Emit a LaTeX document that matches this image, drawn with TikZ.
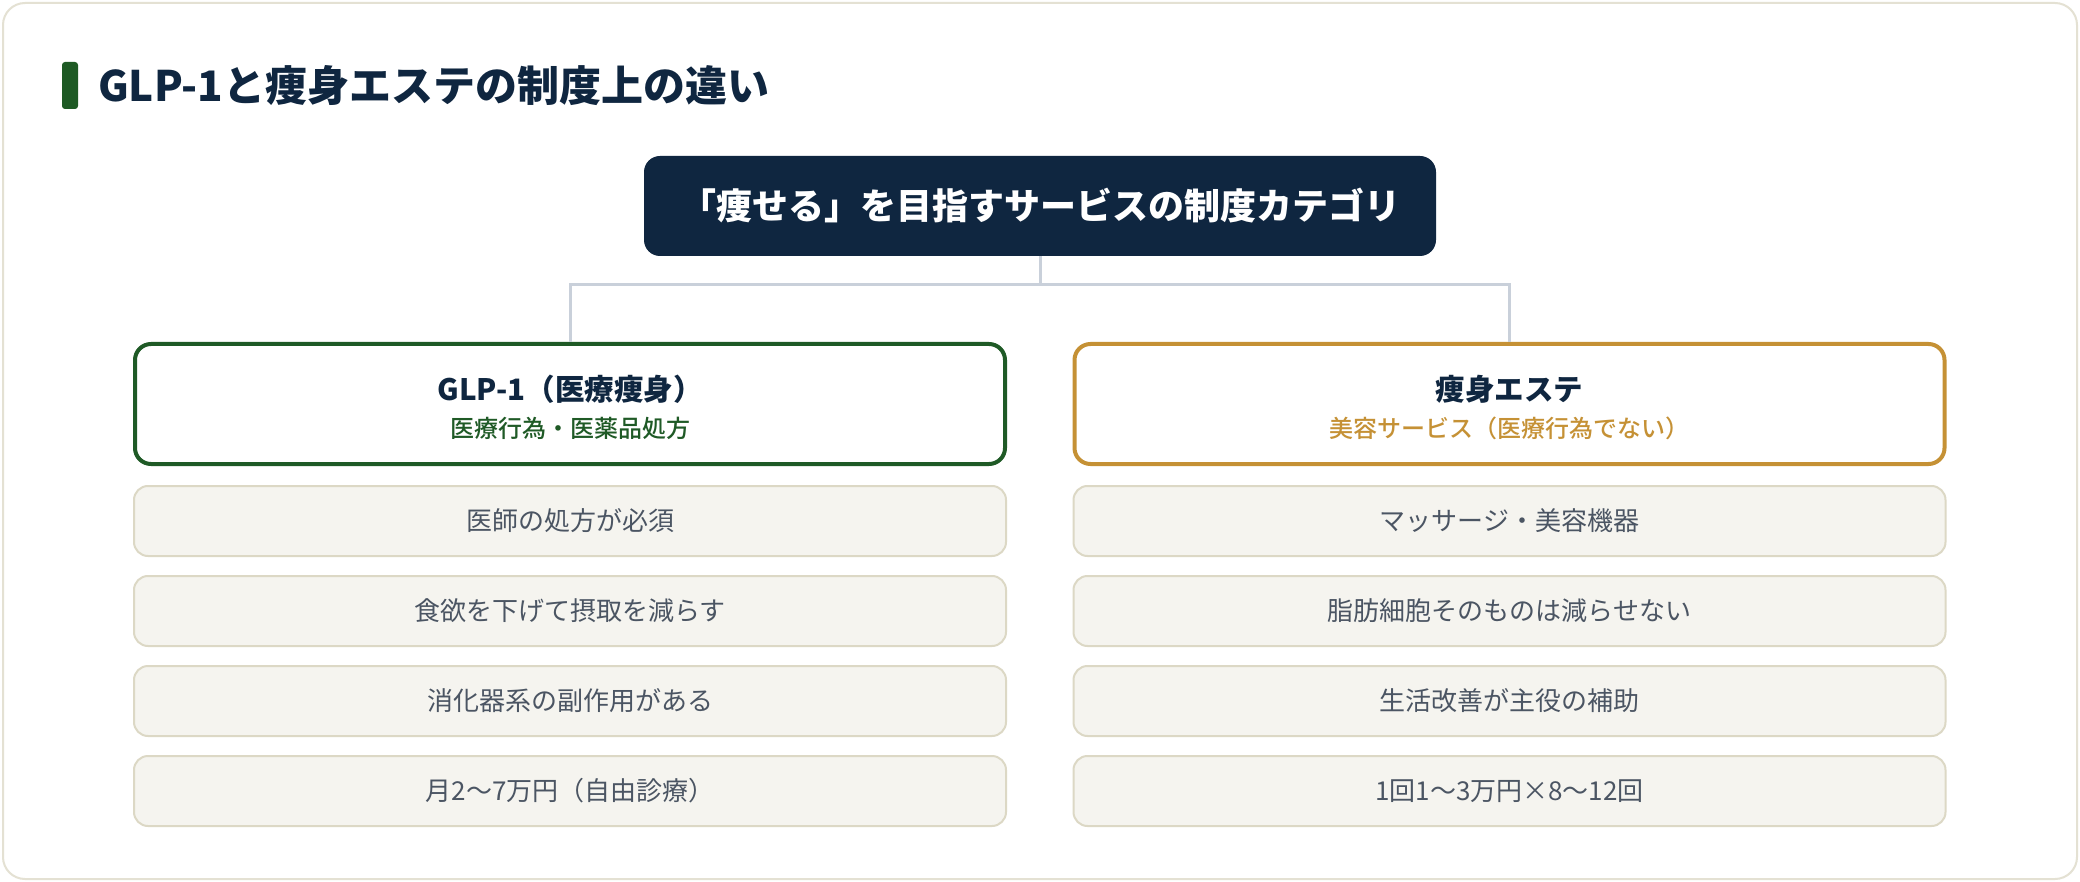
\documentclass[tikz,border=0pt]{standalone}
\usepackage{fontspec}
\setmainfont{Noto Sans CJK JP}
\newfontfamily\medfont{Noto Sans CJK JP Medium}
\definecolor{navy}{HTML}{0F2640}
\definecolor{frameline}{HTML}{E4E1D3}
\definecolor{accent}{HTML}{1E5A24}
\definecolor{wire}{HTML}{C9D0DA}
\definecolor{medgreen}{HTML}{1F5A26}
\definecolor{gold}{HTML}{C59135}
\definecolor{itembg}{HTML}{F5F4EF}
\definecolor{itemline}{HTML}{DCD8C5}
\definecolor{itemtext}{HTML}{4B5563}
\begin{document}
\begin{tikzpicture}[x=1pt, y=-1pt,
    head/.style={fill=white, line width=4pt, rounded corners=16pt, minimum width=870pt, minimum height=120pt, inner sep=0pt},
    headtitle/.style={text=navy, inner sep=0pt, font=\fontsize{29.5}{34}\selectfont\bfseries},
    headsub/.style={inner sep=0pt, font=\fontsize{24}{28}\selectfont\medfont},
    item/.style={draw=itemline, fill=itembg, line width=2pt, rounded corners=14pt, minimum width=872pt, minimum height=70pt, inner sep=0pt, text=itemtext, font=\fontsize{26}{30}\selectfont},
    wireline/.style={draw=wire, line width=3pt}]
    \useasboundingbox (0, 0) rectangle (2080, 882);
    \fill[white] (0, 0) rectangle (2080, 882);
    \draw[frameline, line width=2pt, rounded corners=22pt] (3, 3) rectangle (2077, 879);

    \fill[accent, rounded corners=3pt] (62, 62) rectangle (78, 109);
    \node[anchor=west, inner sep=0pt, text=navy, font=\fontsize{42}{49}\selectfont\bfseries] (title) at (98, 86) {GLP-1と痩身エステの制度上の違い};

    \node[fill=navy, rounded corners=16pt, minimum width=792pt, minimum height=100pt, text=white, font=\fontsize{36}{41}\selectfont\bfseries] (top) at (1040, 206) {「痩せる」を目指すサービスの制度カテゴリ};

    \node[head, draw=medgreen] (glp) at (570, 404) {};
    \node[head, draw=gold] (este) at (1509.5, 404) {};
    \coordinate (split) at (1040, 285);
    \draw[wireline] (top.south) -- (split);
    \draw[wireline] (split) -| (glp.north);
    \draw[wireline] (split) -| (este.north);

    \node[headtitle] (glpt) at (570, 389) {GLP-1（医療痩身）};
    \node[headsub, text=medgreen] (glps) at (570, 428) {医療行為・医薬品処方};
    \node[headtitle] (estet) at (1509.5, 389) {痩身エステ};
    \node[headsub, text=gold] (estes) at (1509.5, 428) {美容サービス（医療行為でない）};

    \node[item] (l1) at (570, 521) {医師の処方が必須};
    \node[item] (l2) at (570, 611) {食欲を下げて摂取を減らす};
    \node[item] (l3) at (570, 701) {消化器系の副作用がある};
    \node[item] (l4) at (570, 791) {月2〜7万円（自由診療）};

    \node[item] (r1) at (1509.5, 521) {マッサージ・美容機器};
    \node[item] (r2) at (1509.5, 611) {脂肪細胞そのものは減らせない};
    \node[item] (r3) at (1509.5, 701) {生活改善が主役の補助};
    \node[item] (r4) at (1509.5, 791) {1回1〜3万円×8〜12回};
\end{tikzpicture}
\end{document}
